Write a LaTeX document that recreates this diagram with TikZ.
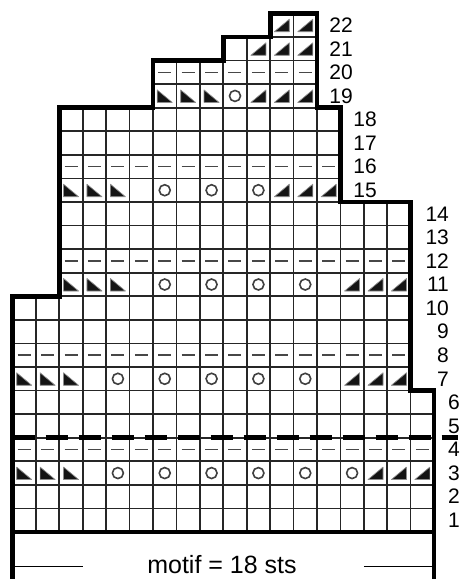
\documentclass[tikz,border=0pt]{standalone}
\usepackage{fontspec}
\setmainfont{Liberation Sans}
\tikzset{
  gridline/.style={line width=1.7pt, draw=black!85},
  border/.style={line width=4.8pt, draw=black, line join=miter},
  tri/.style={fill=black!92, draw=black!45, line width=0.7pt, line join=round},
  yo/.style={draw=black!75, line width=1.6pt},
  pdash/.style={draw=black!72, line width=1.6pt},
  rowlab/.style={anchor=east, inner sep=0pt, font=\fontsize{21}{21}\selectfont},
  lefttri/.pic={\path[tri] (-7.5pt,6pt) -- (-7.5pt,-6.5pt) -- (7.5pt,-6.5pt) -- cycle;},
  righttri/.pic={\path[tri] (7.5pt,6pt) -- (7.5pt,-6.5pt) -- (-7.5pt,-6.5pt) -- cycle;},
  yarnover/.pic={\draw[yo] (0,0) circle[radius=5.5pt];},
  purldash/.pic={\draw[pdash] (-6.5pt,0) -- (6.5pt,0);}
}
\begin{document}
\begin{tikzpicture}[x=23.42pt,y=23.57pt]
\useasboundingbox[fill=white] (-0.5337,-1.994) rectangle (19.193,22.571);
% grid cells
\foreach \r/\a/\b in {1/0/17,2/0/17,3/0/17,4/0/17,5/0/17,6/0/17,
  7/0/16,8/0/16,9/0/16,10/0/16,11/2/16,12/2/16,13/2/16,14/2/16,
  15/2/13,16/2/13,17/2/13,18/2/13,19/6/12,20/6/12,21/9/12,22/11/12}{
  \foreach \c in {\a,...,\b}
    \draw[gridline] (\c,\r-1) rectangle (\c+1,\r);
}
% left-leaning decreases
\foreach \r/\cs in {3/{0,1,2},7/{0,1,2},11/{2,3,4},15/{2,3,4},19/{6,7,8}}{
  \foreach \c in \cs \pic at (\c+0.5,\r-0.5) {lefttri};
}
% right-leaning decreases
\foreach \r/\cs in {3/{15,16,17},7/{14,15,16},11/{14,15,16},15/{11,12,13},
  19/{10,11,12},21/{10,11,12},22/{11,12}}{
  \foreach \c in \cs \pic at (\c+0.5,\r-0.5) {righttri};
}
% yarn overs
\foreach \r/\cs in {3/{4,6,8,10,12,14},7/{4,6,8,10,12},11/{6,8,10,12},15/{6,8,10},19/{9}}{
  \foreach \c in \cs \pic at (\c+0.5,\r-0.5) {yarnover};
}
% purl rows
\foreach \r/\a/\b in {4/0/17,8/0/16,12/2/16,16/2/13,20/6/12}{
  \foreach \c in {\a,...,\b} \pic at (\c+0.5,\r-0.5) {purldash};
}
% outline
\draw[border] (0,-2.2) -- (0,10) -- (2,10) -- (2,18) -- (6,18) -- (6,20) -- (9,20)
  -- (9,21) -- (11,21) -- (11,22) -- (13,22) -- (13,18) -- (14,18) -- (14,14)
  -- (17,14) -- (17,6) -- (18,6) -- (18,-2.2);
\draw[border] (0,0) -- (18,0);
% repeat line
\draw[line width=5pt, dash pattern=on 22pt off 11pt] (0,4) -- (19.02,4);
% row numbers
\foreach \r in {1,...,6} \node[rowlab] (l\r) at (19.11,\r-0.5) {\r};
\foreach \r in {7,...,14} \node[rowlab] (l\r) at (18.64,\r-0.5) {\r};
\foreach \r in {15,...,18} \node[rowlab] (l\r) at (15.56,\r-0.5) {\r};
\foreach \r in {19,...,22} \node[rowlab] (l\r) at (14.54,\r-0.5) {\r};
% motif
\node[anchor=base, inner sep=0pt, font=\fontsize{25}{25}\selectfont] (motif) at (8.945,-1.74) {motif = 18 sts};
\draw[line width=1.3pt] (0,-1.45) -- (3,-1.45);
\draw[line width=1.3pt] (15,-1.45) -- (18,-1.45);
\end{tikzpicture}
\end{document}
